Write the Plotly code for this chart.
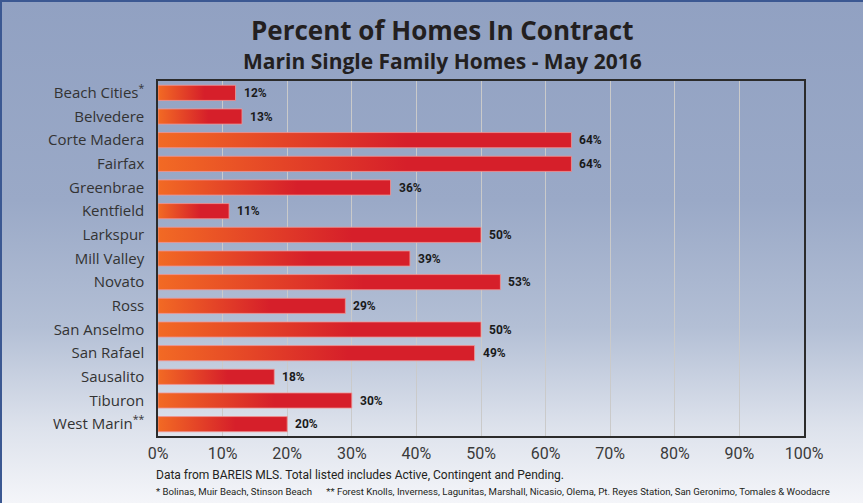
import base64
import plotly.graph_objects as go

# ---------------- data ----------------
categories = ["Beach Cities<sup>*</sup>", "Belvedere", "Corte Madera", "Fairfax", "Greenbrae",
              "Kentfield", "Larkspur", "Mill Valley", "Novato", "Ross", "San Anselmo",
              "San Rafael", "Sausalito", "Tiburon", "West Marin<sup>**</sup>"]
values = [12, 13, 64, 64, 36, 11, 50, 39, 53, 29, 50, 49, 18, 30, 20]
x_tick_values = [0, 10, 20, 30, 40, 50, 60, 70, 80, 90, 100]
x_tick_labels = ["0%", "10%", "20%", "30%", "40%", "50%", "60%", "70%", "80%", "90%", "100%"]
title_text = "Percent of Homes In Contract"
subtitle_text = "Marin Single Family Homes - May 2016"
note1 = "Data from BAREIS MLS. Total listed includes Active, Contingent and Pending."
note2 = ("* Bolinas, Muir Beach, Stinson Beach &nbsp;&nbsp;&nbsp;&nbsp; ** Forest Knolls, Inverness, Lagunitas, "
         "Marshall, Nicasio, Olema, Pt. Reyes Station, San Geronimo, Tomales &amp; Woodacre")

# ---------------- layout constants ----------------
W, H = 863, 503
ML, MR, MT, MB = 158, 59, 81, 67
PW, PH = W - ML - MR, H - MT - MB
BAR_HALF = 0.32

def px_x(p):
    return (p - ML) / PW

def px_y(p):
    return (H - MB - p) / PH

# background gradient as an inline SVG image
svg = f'''<svg xmlns="http://www.w3.org/2000/svg" width="{W}" height="{H}" viewBox="0 0 {W} {H}" preserveAspectRatio="none">
<defs><linearGradient id="g" x1="0" y1="0" x2="0" y2="1">
<stop offset="0" stop-color="#91a1c2"/>
<stop offset="0.40" stop-color="#9aa9c7"/>
<stop offset="0.65" stop-color="#b3bfd5"/>
<stop offset="0.85" stop-color="#dde2ec"/>
<stop offset="1" stop-color="#f4f5f9"/>
</linearGradient></defs>
<rect width="{W}" height="{H}" fill="url(#g)"/>
<line x1="0" y1="1" x2="{W}" y2="1" stroke="#3b5892" stroke-width="2"/>
<line x1="1" y1="0" x2="1" y2="{H}" stroke="#3b5892" stroke-width="2"/>
</svg>'''
bg_uri = "data:image/svg+xml;base64," + base64.b64encode(svg.encode()).decode()

fig = go.Figure()

bar_scale = [[0, "#f26a24"], [0.6, "#d61f2a"], [1, "#d61f2a"]]
for i, v in enumerate(values):
    fig.add_trace(go.Scatter(
        x=[0, v, v, 0, 0],
        y=[i - BAR_HALF, i - BAR_HALF, i + BAR_HALF, i + BAR_HALF, i - BAR_HALF],
        mode="lines", fill="toself",
        line=dict(color="rgba(240,150,150,0.8)", width=1),
        fillgradient=dict(type="horizontal", colorscale=bar_scale),
        hoverinfo="skip", showlegend=False,
    ))

annotations = []
for i, v in enumerate(values):
    annotations.append(dict(x=v, y=i, xref="x", yref="y", text=f"<b>{v}%</b>",
                            showarrow=False, xanchor="left", xshift=6,
                            font=dict(family="Roboto", size=12, color="#1a1a1a")))

annotations += [
    dict(x=px_x(442), y=px_y(30), xref="paper", yref="paper", text=f"<b>{title_text}</b>",
         showarrow=False, xanchor="center", yanchor="middle",
         font=dict(family="Open Sans", size=26, color="#231f20")),
    dict(x=px_x(442), y=px_y(61), xref="paper", yref="paper", text=f"<b>{subtitle_text}</b>",
         showarrow=False, xanchor="center", yanchor="middle",
         font=dict(family="Open Sans", size=21, color="#231f20")),
    dict(x=px_x(154), y=px_y(475), xref="paper", yref="paper", text=note1,
         showarrow=False, xanchor="left", yanchor="middle",
         font=dict(family="Roboto", size=12, color="#231f20")),
    dict(x=px_x(154), y=px_y(491), xref="paper", yref="paper", text=note2,
         showarrow=False, xanchor="left", yanchor="middle",
         font=dict(family="Roboto", size=9.6, color="#231f20")),
]

fig.update_layout(
    width=W, height=H,
    margin=dict(l=ML, r=MR, t=MT, b=MB, autoexpand=False),
    paper_bgcolor="#dfe4ee",
    plot_bgcolor="white",
    images=[dict(source=bg_uri, xref="paper", yref="paper",
                 x=-ML / PW, y=1 + MT / PH, sizex=W / PW, sizey=H / PH,
                 xanchor="left", yanchor="top", sizing="stretch", layer="below")],
    annotations=annotations,
    xaxis=dict(range=[0, 100], tickvals=x_tick_values, ticktext=x_tick_labels,
               showgrid=True, gridcolor="#cacaca", gridwidth=1, zeroline=False,
               showline=True, mirror=True, linecolor="#2b2b2b", linewidth=1.5,
               ticks="", ticklabelstandoff=2,
               tickfont=dict(family="Roboto", size=16, color="#3a3a3a")),
    yaxis=dict(range=[len(categories) - 0.5, -0.5], tickvals=list(range(len(categories))),
               ticktext=categories, showgrid=False, zeroline=False,
               showline=True, mirror=True, linecolor="#2b2b2b", linewidth=1.5,
               ticks="", ticklabelstandoff=9,
               tickfont=dict(family="Open Sans", size=15, color="#333333")),
    showlegend=False,
)

fig.write_html("out.html", config={"displayModeBar": False},
               post_script="document.body.style.margin='0';document.body.style.overflow='hidden';")
